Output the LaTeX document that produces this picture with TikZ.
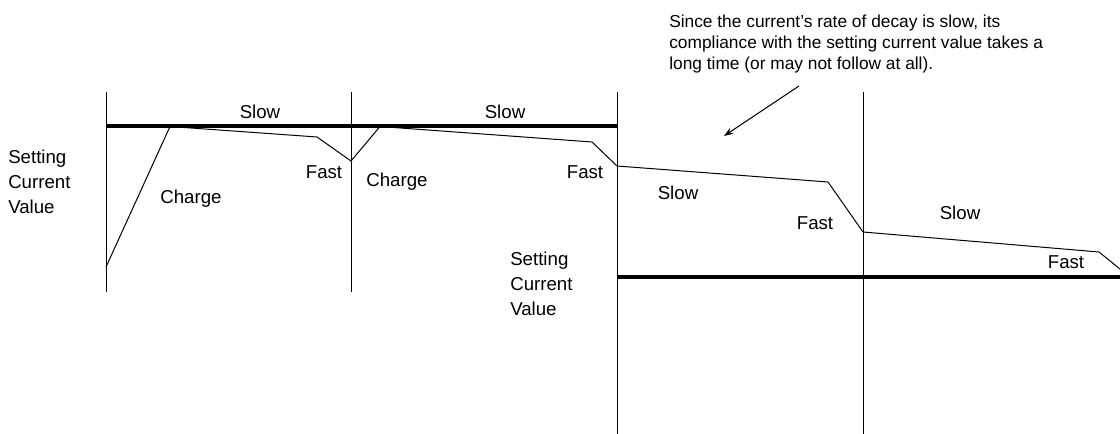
\documentclass[tikz,border=0pt]{standalone}
\usepackage{fontspec}
\setmainfont{Liberation Sans}
\usetikzlibrary{arrows.meta}
\tikzset{
  lbl/.style={inner sep=0pt, font=\fontsize{14}{18.75}\selectfont},
  stack/.style={lbl, align=left, anchor=west},
  note/.style={inner sep=0pt, align=left, anchor=north west, font=\fontsize{13}{15.75}\selectfont},
  divider/.style={line width=0.75pt},
  level/.style={line width=3pt},
  trace/.style={line width=0.75pt, line join=miter},
  pointer/.style={line width=0.75pt, -{Stealth[length=7pt,width=5pt]}}
}
\begin{document}
\begin{tikzpicture}[x=0.75pt,y=-0.75pt]
\useasboundingbox (0,0) rectangle (1120,434);
% dividers
\coordinate (v1t) at (106,92);  \coordinate (v1b) at (106,292);
\coordinate (v2t) at (351,92);  \coordinate (v2b) at (351,292);
\coordinate (v3t) at (617,92);  \coordinate (v3b) at (617,434);
\coordinate (v4t) at (863,92);  \coordinate (v4b) at (863,434);
\draw[divider] (v1t) -- (v1b);
\draw[divider] (v2t) -- (v2b);
\draw[divider] (v3t) -- (v3b);
\draw[divider] (v4t) -- (v4b);
% setting levels
\coordinate (s1a) at (106,126.5); \coordinate (s1b) at (617,126.5);
\coordinate (s2a) at (617,277);   \coordinate (s2b) at (1120,277);
\draw[level] (s1a) -- (s1b);
\draw[level] (s2a) -- (s2b);
% current trace
\coordinate (p0) at (106,267);
\coordinate (p1) at (170,126.5);
\coordinate (p2) at (317,137);
\coordinate (p3) at (351,161);
\coordinate (p4) at (380,126.5);
\coordinate (p5) at (592,142);
\coordinate (p6) at (617,166);
\coordinate (p7) at (828,182);
\coordinate (p8) at (863,232);
\coordinate (p9) at (1099,252);
\coordinate (p10) at (1120,269);
\draw[trace] (p0) -- (p1) -- (p2) -- (p3) -- (p4) -- (p5) -- (p6) -- (p7) -- (p8) -- (p9) -- (p10);
% labels
\node[lbl] (slow1) at (260,112) {Slow};
\node[lbl] (slow2) at (505,112) {Slow};
\node[lbl] (slow3) at (678,193) {Slow};
\node[lbl] (slow4) at (960,213) {Slow};
\node[lbl] (fast1) at (324,172) {Fast};
\node[lbl] (fast2) at (585,172) {Fast};
\node[lbl] (fast3) at (815,223) {Fast};
\node[lbl] (fast4) at (1066,262) {Fast};
\node[lbl] (charge1) at (191,199) {Charge};
\node[lbl] (charge2) at (397,182) {Charge};
\node[stack] (set1) at (8,182) {Setting\\Current\\Value};
\node[stack] (set2) at (510,284) {Setting\\Current\\Value};
\node[note] (ann) at (669,15) {Since the current’s rate of decay is slow, its\\compliance with the setting current value takes a\\long time (or may not follow at all).};
\coordinate (arS) at (799,86);
\coordinate (arE) at (724,136);
\draw[pointer] (arS) -- (arE);
\end{tikzpicture}
\end{document}
